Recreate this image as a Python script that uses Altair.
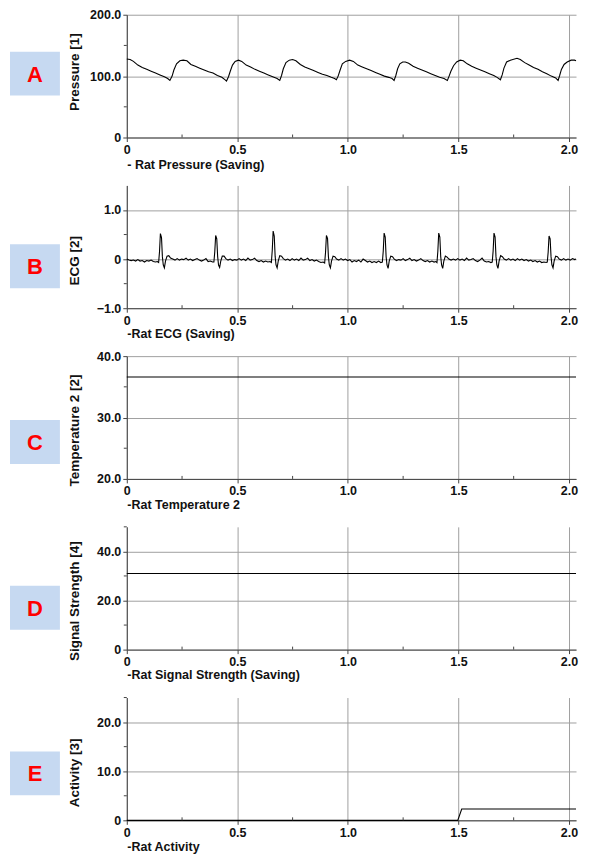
import altair as alt
import pandas as pd

X_MAX = 2.032

pressure_points = [
    (0.000, 128), (0.015, 127), (0.030, 124), (0.050, 118), (0.070, 114), (0.090, 111),
    (0.110, 108), (0.130, 105), (0.150, 102), (0.170, 99), (0.185, 96), (0.195, 93),
    (0.205, 100), (0.213, 110), (0.225, 120), (0.240, 125), (0.255, 126), (0.272, 125),
    (0.290, 119), (0.310, 116), (0.330, 113), (0.350, 110), (0.370, 107), (0.390, 105),
    (0.410, 101), (0.430, 98), (0.445, 94), (0.451, 92),
    (0.460, 99), (0.468, 108), (0.478, 118), (0.490, 124), (0.505, 126), (0.520, 124),
    (0.540, 118), (0.560, 115), (0.580, 111), (0.600, 108), (0.620, 105), (0.640, 102),
    (0.660, 99), (0.680, 96), (0.692, 93),
    (0.700, 101), (0.708, 112), (0.720, 122), (0.735, 126), (0.750, 127), (0.765, 125),
    (0.785, 119), (0.805, 115), (0.825, 112), (0.845, 109), (0.865, 106), (0.885, 103),
    (0.905, 101), (0.925, 98), (0.940, 96), (0.948, 94),
    (0.956, 100), (0.965, 110), (0.975, 120), (0.990, 124), (1.008, 126), (1.025, 124),
    (1.045, 118), (1.065, 115), (1.085, 112), (1.105, 109), (1.125, 106), (1.145, 103),
    (1.165, 100), (1.185, 98), (1.200, 96), (1.209, 93),
    (1.217, 101), (1.225, 112), (1.235, 120), (1.248, 123), (1.260, 123), (1.275, 121),
    (1.295, 116), (1.315, 113), (1.335, 110), (1.355, 107), (1.375, 104), (1.395, 101),
    (1.415, 98), (1.435, 96), (1.450, 93),
    (1.458, 100), (1.466, 108), (1.478, 117), (1.492, 123), (1.508, 126), (1.522, 125),
    (1.540, 120), (1.560, 116), (1.580, 113), (1.600, 110), (1.620, 107), (1.640, 104),
    (1.660, 101), (1.675, 98), (1.690, 94),
    (1.698, 102), (1.706, 113), (1.718, 123), (1.735, 126), (1.765, 129), (1.780, 127),
    (1.800, 122), (1.820, 118), (1.840, 114), (1.860, 111), (1.880, 107), (1.900, 104),
    (1.920, 100), (1.940, 97), (1.951, 93),
    (1.958, 101), (1.966, 111), (1.978, 119), (1.992, 123), (2.010, 126), (2.025, 126),
    (2.032, 125),
]

ecg_points = [
    (0.000, 0.00), (0.010, -0.02), (0.020, -0.03), (0.030, -0.02), (0.040, -0.04), (0.050, -0.01),
    (0.060, -0.04), (0.070, -0.03), (0.080, -0.06), (0.090, -0.03), (0.100, -0.04), (0.110, -0.02),
    (0.120, -0.05), (0.130, -0.06), (0.138, -0.05), (0.144, -0.07),
    (0.148, 0.15), (0.152, 0.52), (0.157, 0.44), (0.161, 0.05), (0.165, -0.12), (0.170, -0.18),
    (0.175, -0.04), (0.182, 0.06), (0.190, 0.07), (0.198, 0.02),
    (0.208, 0.00), (0.218, -0.02), (0.228, 0.01), (0.238, -0.02), (0.248, 0.00), (0.258, -0.01),
    (0.268, 0.02), (0.278, -0.02), (0.288, 0.00), (0.298, -0.03), (0.308, -0.01), (0.318, 0.01),
    (0.328, -0.02), (0.338, -0.04), (0.348, -0.02), (0.358, 0.01), (0.368, -0.05), (0.378, -0.04),
    (0.388, -0.06), (0.394, -0.06),
    (0.398, 0.15), (0.402, 0.48), (0.407, 0.41), (0.411, 0.05), (0.415, -0.12), (0.420, -0.17),
    (0.425, -0.04), (0.432, 0.06), (0.440, 0.06), (0.448, 0.01),
    (0.458, -0.02), (0.468, 0.00), (0.478, -0.03), (0.488, -0.01), (0.498, -0.02), (0.508, 0.01),
    (0.518, -0.02), (0.528, 0.00), (0.538, -0.03), (0.548, 0.02), (0.558, -0.02), (0.568, -0.01),
    (0.578, 0.02), (0.588, -0.03), (0.598, -0.05), (0.608, -0.03), (0.618, -0.06), (0.628, -0.04),
    (0.638, -0.06), (0.648, -0.05), (0.654, -0.07),
    (0.658, 0.18), (0.662, 0.57), (0.667, 0.47), (0.671, 0.06), (0.675, -0.12), (0.680, -0.18),
    (0.685, -0.04), (0.692, 0.07), (0.700, 0.06), (0.708, 0.01),
    (0.718, -0.02), (0.728, 0.00), (0.738, -0.03), (0.748, 0.01), (0.758, -0.02), (0.768, 0.00),
    (0.778, -0.03), (0.788, 0.02), (0.798, -0.02), (0.808, -0.01), (0.818, 0.02), (0.828, -0.03),
    (0.838, -0.01), (0.848, -0.04), (0.858, -0.02), (0.868, -0.05), (0.878, -0.07), (0.888, -0.06),
    (0.895, -0.08),
    (0.899, 0.14), (0.903, 0.48), (0.908, 0.42), (0.912, 0.05), (0.916, -0.12), (0.921, -0.18),
    (0.926, -0.04), (0.933, 0.06), (0.941, 0.05), (0.949, 0.00),
    (0.959, -0.02), (0.969, 0.01), (0.979, -0.02), (0.989, 0.00), (0.999, -0.03), (1.009, -0.01),
    (1.019, -0.06), (1.029, -0.03), (1.039, -0.05), (1.049, -0.02), (1.059, -0.06), (1.069, 0.00),
    (1.079, -0.03), (1.089, -0.06), (1.099, -0.04), (1.109, -0.07), (1.119, -0.05), (1.129, -0.07),
    (1.139, -0.04), (1.149, -0.07), (1.156, -0.06),
    (1.160, 0.16), (1.164, 0.53), (1.169, 0.45), (1.173, 0.05), (1.177, -0.12), (1.182, -0.19),
    (1.187, -0.04), (1.194, 0.06), (1.202, 0.05), (1.210, 0.00),
    (1.220, -0.03), (1.230, -0.01), (1.240, -0.02), (1.250, 0.01), (1.260, -0.03), (1.270, -0.01),
    (1.280, 0.02), (1.290, -0.03), (1.300, -0.01), (1.310, -0.04), (1.320, -0.02), (1.330, 0.01),
    (1.340, -0.03), (1.350, -0.05), (1.360, -0.03), (1.370, -0.06), (1.380, -0.04), (1.390, -0.06),
    (1.398, -0.05), (1.403, -0.07),
    (1.407, 0.16), (1.411, 0.53), (1.416, 0.45), (1.420, 0.05), (1.424, -0.12), (1.429, -0.19),
    (1.434, -0.04), (1.441, 0.06), (1.449, 0.04), (1.457, 0.00),
    (1.467, -0.02), (1.477, 0.00), (1.487, -0.02), (1.497, 0.01), (1.507, -0.02), (1.517, 0.00),
    (1.527, -0.03), (1.537, 0.02), (1.547, -0.02), (1.557, -0.01), (1.567, 0.01), (1.577, -0.03),
    (1.587, -0.05), (1.597, -0.02), (1.607, 0.02), (1.617, -0.04), (1.627, -0.06), (1.637, -0.05),
    (1.647, -0.07), (1.653, -0.06),
    (1.657, 0.16), (1.661, 0.53), (1.666, 0.45), (1.670, 0.05), (1.674, -0.12), (1.679, -0.19),
    (1.684, -0.04), (1.691, 0.07), (1.699, 0.05), (1.707, 0.00),
    (1.717, -0.02), (1.727, 0.01), (1.737, -0.02), (1.747, 0.00), (1.757, -0.03), (1.767, 0.01),
    (1.777, -0.02), (1.787, 0.00), (1.797, -0.03), (1.807, -0.01), (1.817, -0.04), (1.827, -0.02),
    (1.837, -0.05), (1.847, -0.03), (1.857, -0.06), (1.867, -0.04), (1.877, -0.07), (1.887, -0.06),
    (1.897, -0.07), (1.902, -0.06),
    (1.906, 0.14), (1.910, 0.47), (1.915, 0.41), (1.919, 0.05), (1.923, -0.12), (1.928, -0.18),
    (1.933, -0.04), (1.940, 0.06), (1.948, 0.05), (1.956, 0.00),
    (1.966, -0.02), (1.976, 0.01), (1.986, -0.02), (1.996, 0.00), (2.006, -0.02), (2.016, 0.01),
    (2.026, -0.01), (2.032, 0.00),
]

temperature_points = [(0.0, 36.6), (2.032, 36.6)]
signal_points = [(0.0, 31.0), (2.032, 31.0)]
activity_points = [(0.0, 0.0), (1.497, 0.0), (1.515, 2.3), (2.032, 2.3)]

series = [pressure_points, ecg_points, temperature_points, signal_points, activity_points]
letters = ["A", "B", "C", "D", "E"]
y_titles = ["Pressure [1]", "ECG [2]", "Temperature 2 [2]", "Signal Strength [4]", "Activity [3]"]
x_titles = ["- Rat Pressure (Saving)", "-Rat ECG (Saving)", "-Rat Temperature 2",
            "-Rat Signal Strength (Saving)", "-Rat Activity"]
y_domains = [[0, 200], [-1, 1.5], [20, 40], [0, 50], [0, 25]]
y_major = [[0, 100, 200], [-1, 0, 1], [20, 30, 40], [0, 20, 40], [0, 10, 20]]
y_minor = [[50, 150], [-0.5, 0.5], [25, 35], [10, 30, 50], [5, 15, 25]]
x_major = [0, 0.5, 1.0, 1.5, 2.0]
x_minor = [0.25, 0.75, 1.25, 1.75]

# layout styling (pixels)
W, H = 450, 123
box_tops = [37, 59, 64, 59, 54]
ytitle_y = [57, 75, 74, 74, 75]
xtitle_y = [21, 19, 20, 19, 20]

LABEL_EXPR = "datum.value == 0 ? '0' : format(datum.value, '.1f')"
FONT = "Liberation Sans"
AX = "#444444"


def panel(i):
    df = pd.DataFrame(series[i], columns=["t", "v"])
    xscale = alt.Scale(domain=[0, X_MAX], nice=False, zero=False)
    yscale = alt.Scale(domain=y_domains[i], nice=False, zero=False)
    x = alt.X("t:Q", scale=xscale,
              axis=alt.Axis(values=x_major, title=x_titles[i], labelExpr=LABEL_EXPR,
                            titleX=0, titleY=xtitle_y[i], titleAlign="left",
                            titleBaseline="top", titleFontSize=12.5))
    y = alt.Y("v:Q", scale=yscale,
              axis=alt.Axis(values=y_major[i], title=y_titles[i], labelExpr=LABEL_EXPR,
                            titleX=-52, titleY=ytitle_y[i], titleAngle=270,
                            titleAlign="center", titleBaseline="middle",
                            titleFontSize=13.5))
    line = alt.Chart(df).mark_line(color="black", strokeWidth=1.1).encode(x=x, y=y)

    yminor = alt.Chart(pd.DataFrame({"v": y_minor[i]})).mark_rule(color=AX).encode(
        y=alt.Y("v:Q"), x=alt.value(-3), x2=alt.value(0))
    xminor = alt.Chart(pd.DataFrame({"t": x_minor})).mark_rule(color=AX).encode(
        x=alt.X("t:Q"), y=alt.value(H - 3), y2=alt.value(H))

    lab = pd.DataFrame({"letter": [letters[i]]})
    box = alt.Chart(lab).mark_rect(fill="#c6d9f1").encode(
        x=alt.value(-117), x2=alt.value(-67),
        y=alt.value(box_tops[i]), y2=alt.value(box_tops[i] + 44))
    txt = alt.Chart(lab).mark_text(color="#ff0000", fontWeight="bold", fontSize=22,
                                   font=FONT, align="center", baseline="middle").encode(
        text="letter:N", x=alt.value(-92), y=alt.value(box_tops[i] + 23))

    return alt.layer(line, yminor, xminor, box, txt).properties(width=W, height=H)


chart = (
    alt.vconcat(*[panel(i) for i in range(5)], spacing=48, bounds="flush")
    .configure(padding={"left": 2, "top": 0, "right": 4, "bottom": 4}, background="white")
    .configure_view(stroke=None)
    .configure_axis(
        domainColor=AX, domainWidth=1,
        gridColor="#a0a0a0", gridWidth=1,
        tickColor=AX, tickSize=4,
        labelFont=FONT, labelFontSize=12.5, labelFontWeight="bold", labelColor="#111111",
        labelPadding=2, labelFlush=False,
        titleFont=FONT, titleFontWeight="bold", titleColor="#111111",
    )
)

chart.save("out.html", embed_options={"renderer": "svg", "actions": False})
